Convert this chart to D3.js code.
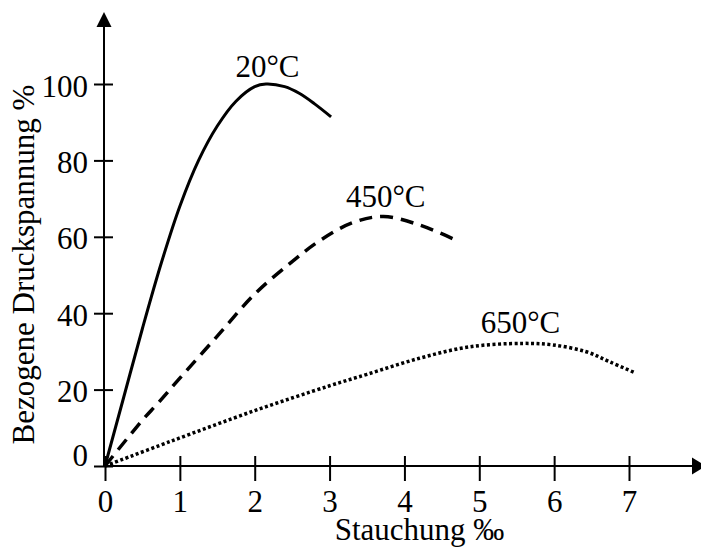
<!DOCTYPE html>
<html><head><meta charset="utf-8">
<script src="https://cdn.jsdelivr.net/npm/d3@7"></script>
<style>body{margin:0;background:#fff}svg{display:block}</style>
</head><body><svg id="c" width="701" height="550"></svg>
<script>
const xTicks = [0,1,2,3,4,5,6,7];
const yTicks = [0,20,40,60,80,100];
const xTitle = "Stauchung ‰";
const yTitle = "Bezogene Druckspannung %";
const seriesNames = ["20°C","450°C","650°C"];
const s20x = [0,0.25,0.5,0.75,1.0,1.25,1.5,1.75,2.0,2.15,2.4,2.6,2.8,3.02];
const s20y = [0,18,36,53,68,80,89,95.5,99.3,100,99.3,97.5,94.8,91.4];
const s450x = [0,0.5,0.71,1,1.5,2,2.5,2.87,3.31,3.72,4.2,4.67];
const s450y = [0,12,16.5,23,34,45,53.5,59,63.7,65.3,63.1,59.3];
const s650x = [0,0.87,2,3,3.5,4.2,4.87,5.58,5.98,6.43,6.74,7.08];
const s650y = [0,6.4,14.5,21,24,28.2,31.2,32.1,31.7,29.9,27.3,24.4];
const labelPos = [[2.17,101.8],[3.75,67.7],[5.55,34.7]];

const FONT = '"Liberation Serif","Times New Roman","DejaVu Serif",serif';
const svg = d3.select("#c");
const x = d3.scaleLinear().domain([0,7]).range([105,629]);
const y = d3.scaleLinear().domain([0,100]).range([466,84]);

// axes lines with arrows
svg.append("line").attr("x1",104).attr("x2",104).attr("y1",467).attr("y2",24).attr("stroke","#000").attr("stroke-width",2);
svg.append("path").attr("d","M104,12 L96.5,27 L111.5,27 Z").attr("fill","#000");
svg.append("line").attr("x1",103).attr("x2",696).attr("y1",466).attr("y2",466).attr("stroke","#000").attr("stroke-width",2);
svg.append("path").attr("d","M706,466 L692,457.5 L692,474.5 Z").attr("fill","#000");

const gx = svg.append("g").attr("transform","translate(0,466)")
  .call(d3.axisBottom(x).tickValues(xTicks).tickFormat(d3.format("d")).tickSize(15))
  .attr("font-family",FONT).attr("font-size",31);
gx.select(".domain").remove();
gx.selectAll(".tick line").attr("y1",-10).attr("y2",15).attr("stroke-width",2);
gx.selectAll(".tick text").attr("y",46).attr("dy",0).style("font-family",FONT).style("font-size","31px");

const gy = svg.append("g").attr("transform","translate(104,0)")
  .call(d3.axisLeft(y).tickValues(yTicks).tickSize(10))
  .attr("font-family",FONT).attr("font-size",31);
gy.select(".domain").remove();
gy.selectAll(".tick line").attr("x1",9).attr("x2",-10).attr("stroke-width",2);
gy.selectAll(".tick text").attr("x",-16).attr("dy",d=>d===0?"-1px":"12px").style("font-family",FONT).style("font-size","31px");

// titles
svg.append("text").attr("x",419.5).attr("y",540).attr("text-anchor","middle")
  .style("font-family",FONT).style("font-size","31px").text(xTitle);
svg.append("text").attr("transform","translate(34,264.5) rotate(-90)").attr("text-anchor","middle")
  .style("font-family",FONT).style("font-size","31px").text(yTitle);

// curves
const line = d3.line().x(d=>x(d[0])).y(d=>y(d[1])).curve(d3.curveCatmullRom.alpha(0.5));
const data = [d3.zip(s20x,s20y), d3.zip(s450x,s450y), d3.zip(s650x,s650y)];
const styles = [{w:3,dash:null},{w:3.5,dash:"13,8"},{w:3.5,dash:"3,2.5"}];
data.forEach((d,i)=>{
  svg.append("path").attr("d",line(d)).attr("fill","none").attr("stroke","#000")
    .attr("stroke-width",styles[i].w).attr("stroke-dasharray",styles[i].dash);
  svg.append("text").attr("x",x(labelPos[i][0])).attr("y",y(labelPos[i][1])).attr("text-anchor","middle")
    .style("font-family",FONT).style("font-size","31px").text(seriesNames[i]);
});
</script></body></html>
